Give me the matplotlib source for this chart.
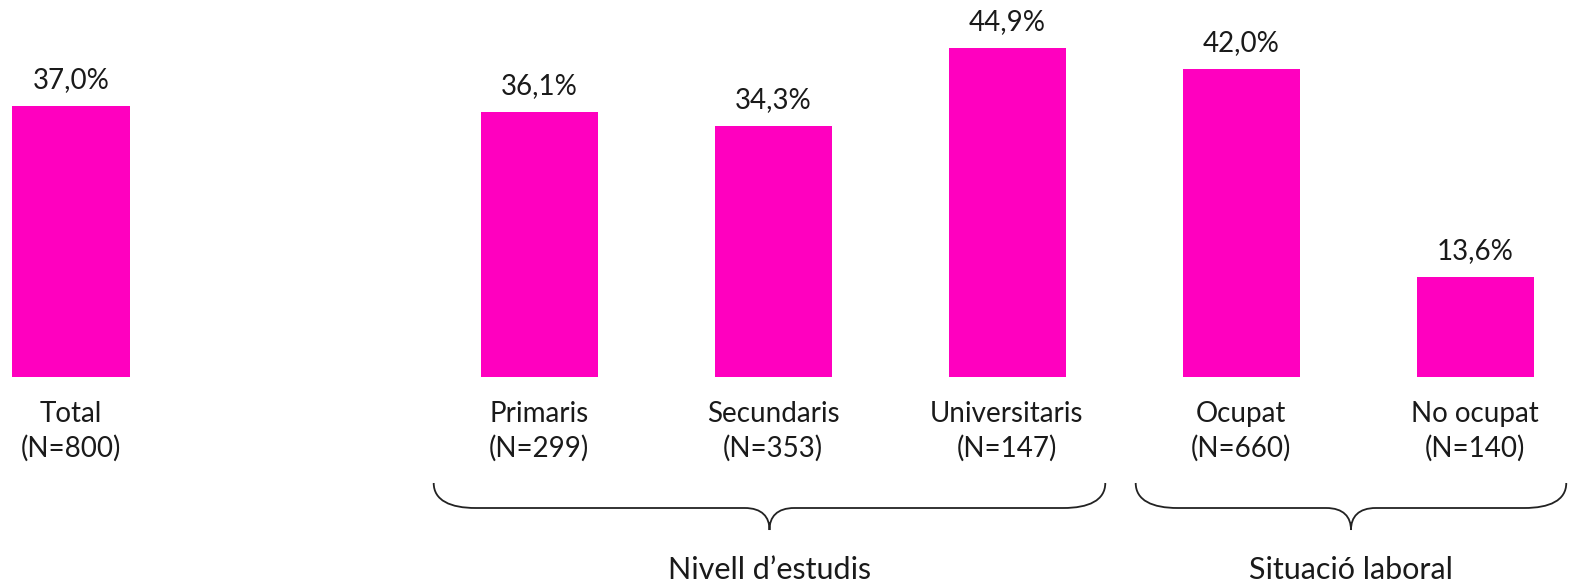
import numpy as np
import matplotlib
matplotlib.use("Agg")
import matplotlib.pyplot as plt
from matplotlib.path import Path
from matplotlib.patches import PathPatch

plt.rcParams['font.family'] = ['Lato', 'DejaVu Sans']

# data
categories = ["Total", "Primaris", "Secundaris", "Universitaris", "Ocupat", "No ocupat"]
sizes = [800, 299, 353, 147, 660, 140]
values = [37.0, 36.1, 34.3, 44.9, 42.0, 13.6]
positions = [0, 2, 3, 4, 5, 6]
groups = ["Nivell d\u2019estudis", "Situaci\u00f3 laboral"]
group_members = [[2, 3, 4], [5, 6]]

color = "#FF00BF"
px_x = 234.0   # pixels per x unit
px_y = 7.33    # pixels per percentage point

fig = plt.figure(figsize=(15.72, 5.88), dpi=100)
ax = fig.add_axes([0, 0, 1, 1])
ax.set_xlim(-71 / px_x, (1572 - 71) / px_x)
ax.set_ylim(-(588 - 377) / px_y, 377 / px_y)
ax.axis("off")

ax.bar(positions, values, width=0.5, color=color)

for x, v, c, n in zip(positions, values, categories, sizes):
    ax.text(x, v + 13 / px_y, f"{v:.1f}%".replace(".", ","), ha="center", va="bottom",
            fontsize=20, color="#1a1a1a")
    ax.text(x, -24 / px_y, f"{c}\n(N={n})", ha="center", va="top",
            fontsize=20, color="#1a1a1a", linespacing=1.38)


def brace(x0, x1, y_top, color="#222222"):
    # curly brace opening upward, tip pointing down at the middle
    hx = 42 / px_x
    hy = 25 / px_y
    tx = 25 / px_x
    ty = 22 / px_y
    xm = (x0 + x1) / 2
    yl = y_top - hy
    yt = yl - ty
    verts = [
        (x0, y_top),
        (x0, y_top - hy * 0.7), (x0 + hx * 0.4, yl), (x0 + hx, yl),
        (xm - tx, yl),
        (xm - tx * 0.3, yl), (xm, yl - ty * 0.4), (xm, yt),
        (xm, yl - ty * 0.4), (xm + tx * 0.3, yl), (xm + tx, yl),
        (x1 - hx, yl),
        (x1 - hx * 0.4, yl), (x1, y_top - hy * 0.7), (x1, y_top),
    ]
    codes = [Path.MOVETO,
             Path.CURVE4, Path.CURVE4, Path.CURVE4,
             Path.LINETO,
             Path.CURVE4, Path.CURVE4, Path.CURVE4,
             Path.CURVE4, Path.CURVE4, Path.CURVE4,
             Path.LINETO,
             Path.CURVE4, Path.CURVE4, Path.CURVE4]
    ax.add_patch(PathPatch(Path(verts, codes), fill=False, lw=1.3, edgecolor=color))
    return xm


for g, members in zip(groups, group_members):
    xm = brace(members[0] - 0.45, members[-1] + 0.42 if len(members) > 2 else members[-1] + 0.39,
               (377 - 483) / px_y)
    ax.text(xm, (377 - 570) / px_y, g, ha="center", va="center",
            fontsize=22, color="#1a1a1a")

fig.savefig("out.png", dpi=100)
